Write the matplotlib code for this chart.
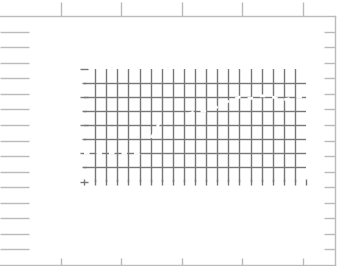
import numpy as np
import matplotlib.pyplot as plt

# outer frame ticks
outer_xticks = [1, 2, 3, 4, 5]
outer_yticks = list(range(1, 16))

# inner grid
inner_xticks = list(range(0, 21))
inner_yticks_major = [0, 2, 4, 6, 8]
inner_yticks_minor = [1, 3, 5, 7]

# series
xs = list(range(0, 21))
ys = [2.0, 2.0, 2.0, 2.0, 2.0, 2.0, 3.0, 4.5, 4.5, 4.6, 5.0, 5.0, 5.3,
      5.7, 6.0, 5.9, 6.1, 6.0, 5.8, 6.0, 6.0]

W, H = 337, 266
fig = plt.figure(figsize=(W / 100, H / 100), dpi=100)

light = '#bbbbbb'
dark = '#777777'


def rect(l, t, r, b):
    return [l / W, 1 - b / H, (r - l) / W, (b - t) / H]


# outer axes: bottom + left ticks
ax = fig.add_axes(rect(0, 16, 335, 265))
ax.set_xlim(0, 335 / 60.5)
ax.set_ylim(0, 16)
ax.set_xticks(outer_xticks)
ax.set_yticks(outer_yticks)
ax.set_xticklabels([])
ax.set_yticklabels([])
for s in ['left', 'right']:
    ax.spines[s].set_visible(False)
for s in ['top', 'bottom']:
    ax.spines[s].set_color(light)
    ax.spines[s].set_linewidth(1.0)
ax.tick_params(axis='x', direction='in', length=5, width=1.0, color=light,
               bottom=True, top=False)
ax.tick_params(axis='y', direction='in', length=21, width=1.0, color=light,
               left=True, right=False)

# top ticks (outward) and right ticks (short, inward)
axt = ax.twiny()
axt.set_xlim(ax.get_xlim())
axt.set_xticks(outer_xticks)
axt.set_xticklabels([])
axt.tick_params(axis='x', direction='out', length=10, width=1.0, color=light)
axr = ax.twinx()
axr.set_ylim(ax.get_ylim())
axr.set_yticks(outer_yticks)
axr.set_yticklabels([])
axr.tick_params(axis='y', direction='in', length=8, width=1.0, color=light)
for a in [axt, axr]:
    for s in ['left', 'bottom', 'top']:
        a.spines[s].set_visible(False)
    a.spines['right'].set_visible(a is axr)
    a.spines['right'].set_color(light)
    a.spines['right'].set_linewidth(1.0)

# inner axes
ai = fig.add_axes(rect(84, 69, 306, 181.5))
ai.set_xlim(0, 20)
ai.set_ylim(0, 8)
ai.set_xticks(inner_xticks)
ai.set_yticks(inner_yticks_major)
ai.set_yticks(inner_yticks_minor, minor=True)
ai.set_xticklabels([])
ai.set_yticklabels([])
for s in ai.spines.values():
    s.set_visible(False)
ai.patch.set_alpha(0)
ai.tick_params(axis='x', direction='inout', length=4, width=1.0, color=dark)
ai.tick_params(axis='y', which='major', direction='inout', length=6,
               width=1.0, color=dark)
ai.tick_params(axis='y', which='minor', direction='inout', length=3,
               width=1.0, color=dark)
ai.grid(True, which='both', color=dark, linewidth=1.0)
xg = ai.xaxis.get_gridlines()
xg[0].set_visible(False)
xg[-1].set_visible(False)
yg = ai.yaxis.get_gridlines()
yg[0].set_visible(False)
yg[-1].set_visible(False)

# series line in white, dashed: shows only where it crosses the grid
ai.plot(xs, ys, color='white', linestyle=(0, (2, 2.5)),
        linewidth=2.0, clip_on=False)

fig.savefig('out.png', dpi=100)
